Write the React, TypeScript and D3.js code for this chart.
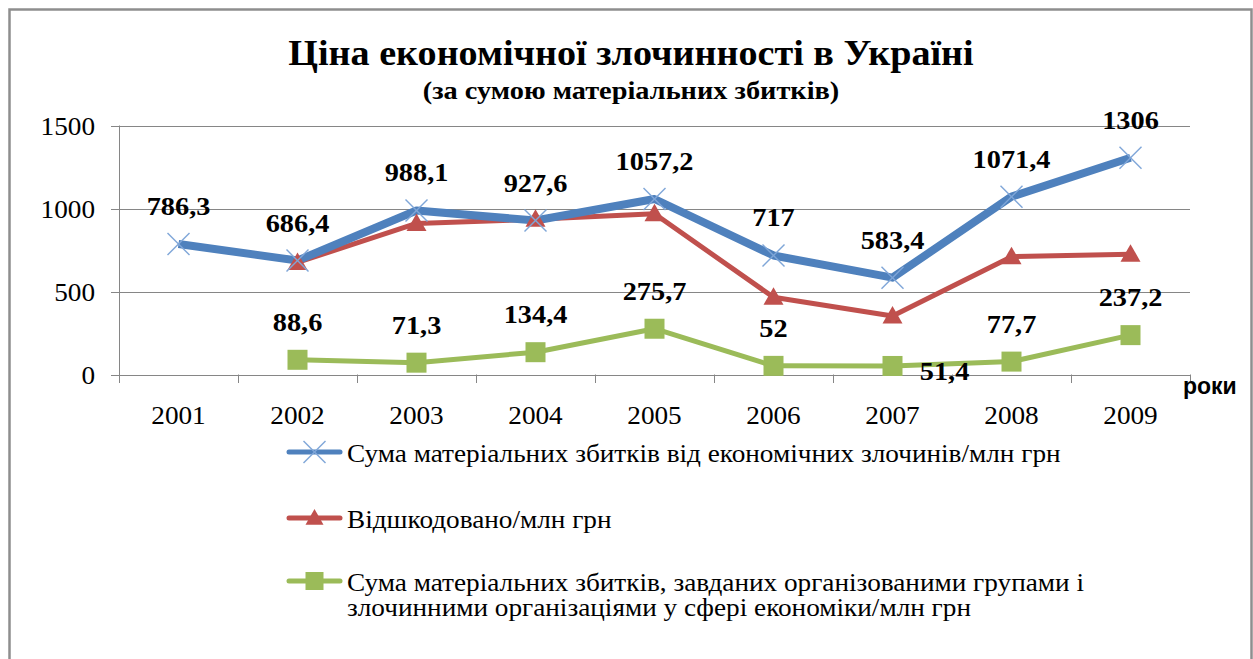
import React from 'react';
import * as d3 from 'd3';

const years = ['2001', '2002', '2003', '2004', '2005', '2006', '2007', '2008', '2009'];
const totalLoss: (number | null)[] = [786.3, 686.4, 988.1, 927.6, 1057.2, 717, 583.4, 1071.4, 1306];
const compensated: (number | null)[] = [null, 675, 910, 935, 968, 465, 352, 710, 725];
const organizedLoss: (number | null)[] = [null, 88.6, 71.3, 134.4, 275.7, 52, 51.4, 77.7, 237.2];
const yTicks = [0, 500, 1000, 1500];

const titleText = 'Ціна економічної злочинності в Україні';
const subtitleText = '(за сумою матеріальних збитків)';
const axisTitle = 'роки';
const legendLabels = [
  ['Сума матеріальних збитків від економічних злочинів/млн грн'],
  ['Відшкодовано/млн грн'],
  ['Сума матеріальних збитків, завданих організованими групами і', 'злочинними організаціями у сфері економіки/млн грн'],
];

const W = 1253;
const H = 659;
const serif = "'Liberation Serif', 'Times New Roman', 'DejaVu Serif', serif";
const sans = "'Liberation Sans', Arial, sans-serif";
const BLUE = '#4F81BD';
const RED = '#C0504D';
const GREEN = '#9BBB59';
const GRID = '#868686';
const STRETCH = 1.09;

const x = d3.scaleBand<string>().domain(years).range([119, 1190]);
const y = d3.scaleLinear().domain([0, 1500]).range([374.5, 125.5]);
const cx = (i: number) => (x(years[i]) as number) + x.bandwidth() / 2;

const fmt = (v: number) => String(v).replace('.', ',');

function pts(vals: (number | null)[]) {
  return vals
    .map((v, i) => (v == null ? null : ([cx(i), y(v)] as [number, number])))
    .filter((p): p is [number, number] => p !== null);
}

const lineGen = d3.line<[number, number]>();

function SText({
  x: tx,
  y: ty,
  size,
  bold = false,
  anchor = 'start',
  children,
}: {
  x: number;
  y: number;
  size: number;
  bold?: boolean;
  anchor?: 'start' | 'middle' | 'end';
  children: React.ReactNode;
}) {
  return (
    <g transform={`translate(${tx},${ty}) scale(${STRETCH},1)`}>
      <text
        x={0}
        y={0}
        textAnchor={anchor}
        style={{ fontFamily: serif, fontSize: size, fontWeight: bold ? 'bold' : 'normal' }}
        fill="#000"
      >
        {children}
      </text>
    </g>
  );
}

function Cross({ px, py, r = 11 }: { px: number; py: number; r?: number }) {
  return (
    <g stroke="#7FA6D8" strokeWidth={1.4}>
      <line x1={px - r} y1={py - r} x2={px + r} y2={py + r} />
      <line x1={px - r} y1={py + r} x2={px + r} y2={py - r} />
    </g>
  );
}
function Tri({ px, py, s = 10 }: { px: number; py: number; s?: number }) {
  return <path d={`M${px},${py - s}L${px + s},${py + s * 0.75}L${px - s},${py + s * 0.75}Z`} fill={RED} />;
}
function Sq({ px, py, s = 10 }: { px: number; py: number; s?: number }) {
  return <rect x={px - s} y={py - s} width={2 * s} height={2 * s} fill={GREEN} />;
}

// label offset overrides (index in organizedLoss)
const organizedLabelShift: Record<number, [number, number]> = { 6: [52, 14] };

export default function App() {
  const blue = pts(totalLoss);
  const red = pts(compensated);
  const green = pts(organizedLoss);
  const labelY = -29;
  return (
    <svg width={W} height={H} style={{ position: 'absolute', left: 0, top: 0, background: '#fff' }}>
      <rect x={0} y={0} width={W} height={H} fill="#fff" />
      {/* frame */}
      <rect x={9.5} y={9.5} width={1242} height={700} fill="none" stroke="#8e8e8e" strokeWidth={2.5} />
      {/* title */}
      <SText x={631} y={65} size={35} bold anchor="middle">
        {titleText}
      </SText>
      <SText x={631} y={99} size={26} bold anchor="middle">
        {subtitleText}
      </SText>
      {/* grid */}
      {yTicks.map((t) => (
        <g key={t}>
          <line x1={111} x2={1190} y1={Math.round(y(t)) + 0.5} y2={Math.round(y(t)) + 0.5} stroke={GRID} strokeWidth={1} />
          <SText x={95} y={y(t) + 9} size={25} anchor="end">
            {t}
          </SText>
        </g>
      ))}
      <line x1={119.5} x2={119.5} y1={y(1500)} y2={383} stroke={GRID} strokeWidth={1} />
      {years.map((yr, i) => (
        <g key={yr}>
          <line
            x1={Math.round((x(yr) as number) + x.bandwidth()) + 0.5}
            x2={Math.round((x(yr) as number) + x.bandwidth()) + 0.5}
            y1={y(0)}
            y2={383}
            stroke={GRID}
            strokeWidth={1}
          />
          <SText x={cx(i)} y={424} size={25} anchor="middle">
            {yr}
          </SText>
        </g>
      ))}
      <text x={1183} y={394} style={{ fontFamily: sans, fontWeight: 'bold', fontSize: 23 }}>
        {axisTitle}
      </text>
      {/* series lines */}
      <path d={lineGen(green) as string} fill="none" stroke={GREEN} strokeWidth={5} strokeLinejoin="round" />
      <path d={lineGen(red) as string} fill="none" stroke={RED} strokeWidth={5} strokeLinejoin="round" />
      <path d={lineGen(blue) as string} fill="none" stroke={BLUE} strokeWidth={8} strokeLinejoin="round" />
      {green.map(([px, py], i) => (
        <Sq key={'g' + i} px={px} py={py} />
      ))}
      {red.map(([px, py], i) => (
        <Tri key={'r' + i} px={px} py={py} />
      ))}
      {blue.map(([px, py], i) => (
        <Cross key={'b' + i} px={px} py={py} />
      ))}
      {/* data labels */}
      {totalLoss.map((v, i) =>
        v == null ? null : (
          <SText key={'bl' + i} x={cx(i)} y={y(v) + labelY} size={26} bold anchor="middle">
            {fmt(v)}
          </SText>
        )
      )}
      {organizedLoss.map((v, i) => {
        if (v == null) return null;
        const sh = organizedLabelShift[i];
        const lx = cx(i) + (sh ? sh[0] : 0);
        const ly = sh ? y(v) + sh[1] : y(v) + labelY;
        return (
          <SText key={'gl' + i} x={lx} y={ly} size={26} bold anchor="middle">
            {fmt(v)}
          </SText>
        );
      })}
      {/* legend */}
      {[
        { c: BLUE, y: 452, m: 'cross' },
        { c: RED, y: 518, m: 'tri' },
        { c: GREEN, y: 581, m: 'sq' },
      ].map((l, i) => (
        <g key={'lg' + i}>
          <line x1={289} x2={340} y1={l.y} y2={l.y} stroke={l.c} strokeWidth={5} strokeLinecap="round" />
          {l.m === 'cross' && <Cross px={314.5} py={l.y} />}
          {l.m === 'tri' && <Tri px={314.5} py={l.y} s={9} />}
          {l.m === 'sq' && <Sq px={314.5} py={l.y} s={9} />}
          {legendLabels[i].map((t, j) => (
            <SText key={j} x={347} y={l.y + 10 + j * 25} size={25}>
              {t}
            </SText>
          ))}
        </g>
      ))}
    </svg>
  );
}
